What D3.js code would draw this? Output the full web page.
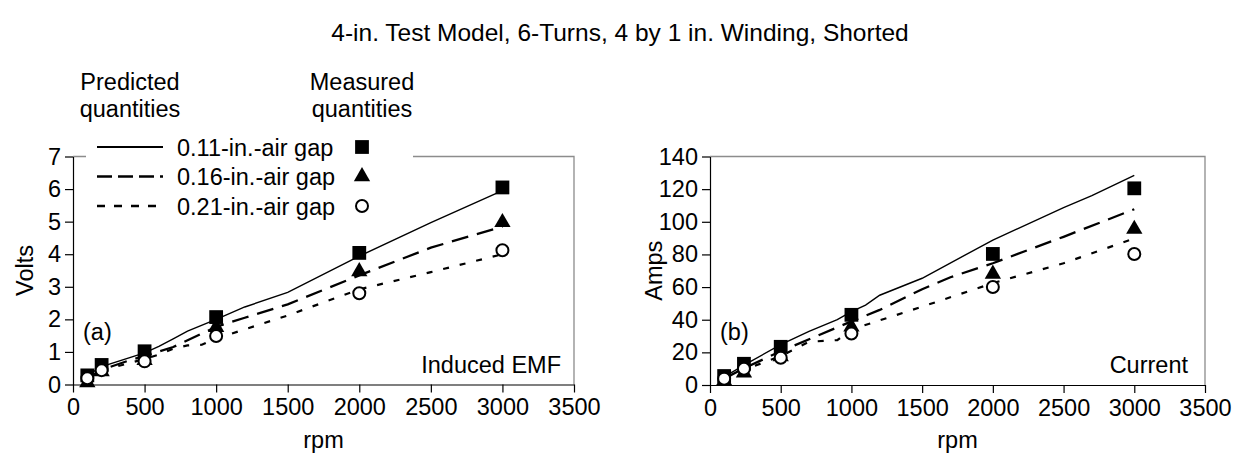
<!DOCTYPE html>
<html>
<head>
<meta charset="utf-8">
<script src="https://cdn.jsdelivr.net/npm/d3@7"></script>
<style>
  body { margin: 0; background: #fff; }
  svg { font-family: "Liberation Sans", Arial, sans-serif; }
</style>
</head>
<body>
<script>
// values

var titleText = "4-in. Test Model, 6-Turns, 4 by 1 in. Winding, Shorted";
var gapLabels = ["0.11-in.-air gap", "0.16-in.-air gap", "0.21-in.-air gap"];

var rpmTicks = [0, 500, 1000, 1500, 2000, 2500, 3000, 3500];
var voltTicks = [0, 1, 2, 3, 4, 5, 6, 7];
var ampTicks = [0, 20, 40, 60, 80, 100, 120, 140];

// (a) induced EMF, measured
var rpmMeasEmf = [100, 200, 500, 1000, 2000, 3000];
var emfMeas011 = [0.28, 0.6, 1.02, 2.07, 4.04, 6.05];
var emfMeas016 = [0.06, 0.4, 0.74, 1.76, 3.47, 4.98];
var emfMeas021 = [0.19, 0.44, 0.71, 1.49, 2.8, 4.12];

// (a) induced EMF, predicted
var rpmPredEmf011 = [100, 200, 500, 600, 700, 800, 1000, 1200, 1500, 2000, 2500, 3000];
var emfPred011    = [0.28, 0.55, 0.97, 1.17, 1.4, 1.64, 2.0, 2.38, 2.83, 3.94, 4.97, 5.95];
var rpmPredEmf016 = [100, 200, 400, 500, 700, 1000, 1200, 1500, 2000, 2500, 3000];
var emfPred016    = [0.2, 0.45, 0.75, 0.87, 1.15, 1.77, 2.05, 2.46, 3.35, 4.2, 4.85];
var rpmPredEmf021 = [100, 200, 300, 500, 600, 700, 800, 900, 1000, 1100, 1500, 2000, 2500, 3000];
var emfPred021    = [0.15, 0.4, 0.55, 0.78, 0.92, 1.1, 1.2, 1.22, 1.42, 1.55, 2.12, 2.92, 3.45, 4.0];

// (b) current, measured
var rpmMeasCur = [100, 240, 500, 1000, 2000, 3000];
var curMeas011 = [5.5, 13, 23.4, 43, 80.3, 120.5];
var curMeas016 = [2.5, 7.5, 17.5, 35.6, 68, 95.5];
var curMeas021 = [3.9, 10, 16.7, 31.5, 60, 80.3];

// (b) current, predicted
var rpmPredCur011 = [100, 250, 500, 700, 900, 1000, 1100, 1200, 1500, 2000, 2500, 2700, 3000];
var curPred011    = [5, 12.6, 24.8, 32.9, 40, 45, 49, 55, 65.4, 88.8, 108.7, 116, 128.4];
var rpmPredCur016 = [100, 250, 500, 1000, 1200, 1500, 1700, 2000, 2500, 3000];
var curPred016    = [3.9, 10.6, 20.7, 39, 46, 58.7, 66, 74.6, 90.8, 107.7];
var rpmPredCur021 = [100, 250, 500, 700, 900, 1000, 1500, 2000, 2500, 3000];
var curPred021    = [3, 9.6, 17.7, 26.5, 27.5, 34, 48, 62.4, 74.6, 89.8];

var W = 1240, H = 455;
var FONT = 23.5;

var svg = d3.select("body").append("svg")
    .attr("width", W)
    .attr("height", H);

svg.append("text")
    .attr("x", 620)
    .attr("y", 41)
    .attr("text-anchor", "middle")
    .attr("font-size", 24.5)
    .text(titleText);

var lineStyles = [
    { dash: null,   width: 1.4 },
    { dash: "17,9", width: 2.3 },
    { dash: "6,11", width: 2.2 }
];
var markerKinds = ["square", "triangle", "circle"];

function zip(xs, ys) {
    return xs.map(function(x, i) { return [x, ys[i]]; });
}

function drawMarker(g, kind, cx, cy) {
    if (kind === "circle") {
        g.append("circle")
            .attr("cx", cx).attr("cy", cy).attr("r", 6)
            .attr("fill", "#fff").attr("stroke", "#000").attr("stroke-width", 2);
    } else {
        var sym = d3.symbol()
            .type(kind === "square" ? d3.symbolSquare : d3.symbolTriangle)
            .size(kind === "square" ? 190 : 115);
        g.append("path")
            .attr("d", sym())
            .attr("transform", "translate(" + cx + "," + cy + ")")
            .attr("fill", "#000");
    }
}

function drawPanel(p) {
    var x = d3.scaleLinear().domain([0, 3500]).range([p.left, p.right]);
    var y = d3.scaleLinear().domain([0, p.yMax]).range([p.bottom, p.top]);
    var g = svg.append("g");

    // grey frame on top and right
    g.append("path")
        .attr("d", "M" + p.left + "," + p.top + "H" + p.right + "V" + p.bottom)
        .attr("fill", "none")
        .attr("stroke", "#8c8c8c")
        .attr("stroke-width", 1.3);

    var line = d3.line()
        .x(function(d) { return x(d[0]); })
        .y(function(d) { return y(d[1]); });

    p.predicted.forEach(function(s, i) {
        g.append("path")
            .datum(s)
            .attr("d", line)
            .attr("fill", "none")
            .attr("stroke", "#000")
            .attr("stroke-width", lineStyles[i].width)
            .attr("stroke-dasharray", lineStyles[i].dash);
    });

    p.measured.forEach(function(s, i) {
        s.forEach(function(d) {
            drawMarker(g, markerKinds[i], x(d[0]), y(d[1]));
        });
    });

    var xAxis = g.append("g")
        .attr("transform", "translate(0," + p.bottom + ")")
        .call(d3.axisBottom(x).tickValues(rpmTicks).tickFormat(d3.format("d"))
            .tickSize(8).tickSizeOuter(0).tickPadding(6));
    var yAxis = g.append("g")
        .attr("transform", "translate(" + p.left + ",0)")
        .call(d3.axisLeft(y).tickValues(p.yTicks).tickFormat(d3.format("d"))
            .tickSize(8).tickSizeOuter(0).tickPadding(4));

    [xAxis, yAxis].forEach(function(a) {
        a.attr("font-size", FONT).attr("font-family", null);
        a.selectAll("path, line").attr("stroke", "#000").attr("stroke-width", 1.2);
        a.selectAll("text").attr("fill", "#000");
    });

    g.append("text")
        .attr("x", (p.left + p.right) / 2)
        .attr("y", p.bottom + 63)
        .attr("text-anchor", "middle")
        .attr("font-size", FONT)
        .text("rpm");

    g.append("text")
        .attr("transform", "translate(" + (p.left - p.labelGap) + "," + ((p.top + p.bottom) / 2) + ") rotate(-90)")
        .attr("text-anchor", "middle")
        .attr("font-size", FONT)
        .text(p.yLabel);

    g.append("text")
        .attr("x", p.left + 10)
        .attr("y", 340)
        .attr("font-size", FONT)
        .text(p.tag);

    g.append("text")
        .attr("x", p.right - p.noteInset)
        .attr("y", 373)
        .attr("text-anchor", "end")
        .attr("font-size", FONT)
        .text(p.note);

    return g;
}

drawPanel({
    left: 73, right: 574, top: 156.5, bottom: 384.5,
    yMax: 7, yTicks: voltTicks, yLabel: "Volts", labelGap: 40,
    tag: "(a)", note: "Induced EMF", noteInset: 13,
    predicted: [zip(rpmPredEmf011, emfPred011), zip(rpmPredEmf016, emfPred016), zip(rpmPredEmf021, emfPred021)],
    measured: [zip(rpmMeasEmf, emfMeas011), zip(rpmMeasEmf, emfMeas016), zip(rpmMeasEmf, emfMeas021)]
});

drawPanel({
    left: 710, right: 1205, top: 156.5, bottom: 385,
    yMax: 140, yTicks: ampTicks, yLabel: "Amps", labelGap: 48,
    tag: "(b)", note: "Current", noteInset: 17,
    predicted: [zip(rpmPredCur011, curPred011), zip(rpmPredCur016, curPred016), zip(rpmPredCur021, curPred021)],
    measured: [zip(rpmMeasCur, curMeas011), zip(rpmMeasCur, curMeas016), zip(rpmMeasCur, curMeas021)]
});

// legend (white box over the top of panel a)
var leg = svg.append("g");
leg.append("rect")
    .attr("x", 86).attr("y", 128)
    .attr("width", 327).attr("height", 94)
    .attr("fill", "#fff");

[["Predicted", "quantities", 130], ["Measured", "quantities", 362]].forEach(function(h) {
    var t = leg.append("text")
        .attr("text-anchor", "middle")
        .attr("font-size", FONT);
    t.append("tspan").attr("x", h[2]).attr("y", 90).text(h[0]);
    t.append("tspan").attr("x", h[2]).attr("y", 117).text(h[1]);
});

gapLabels.forEach(function(label, i) {
    var ly = 147 + i * 29.5;
    leg.append("line")
        .attr("x1", 97).attr("x2", 163)
        .attr("y1", ly).attr("y2", ly)
        .attr("stroke", "#000")
        .attr("stroke-width", i === 0 ? 2.2 : 2.6)
        .attr("stroke-dasharray", i === 0 ? null : (i === 1 ? "15,6" : "8,9"));
    leg.append("text")
        .attr("x", 177).attr("y", ly + 8.5)
        .attr("font-size", FONT)
        .text(label);
    drawMarker(leg, markerKinds[i], 362, ly);
});
</script>
</body>
</html>
